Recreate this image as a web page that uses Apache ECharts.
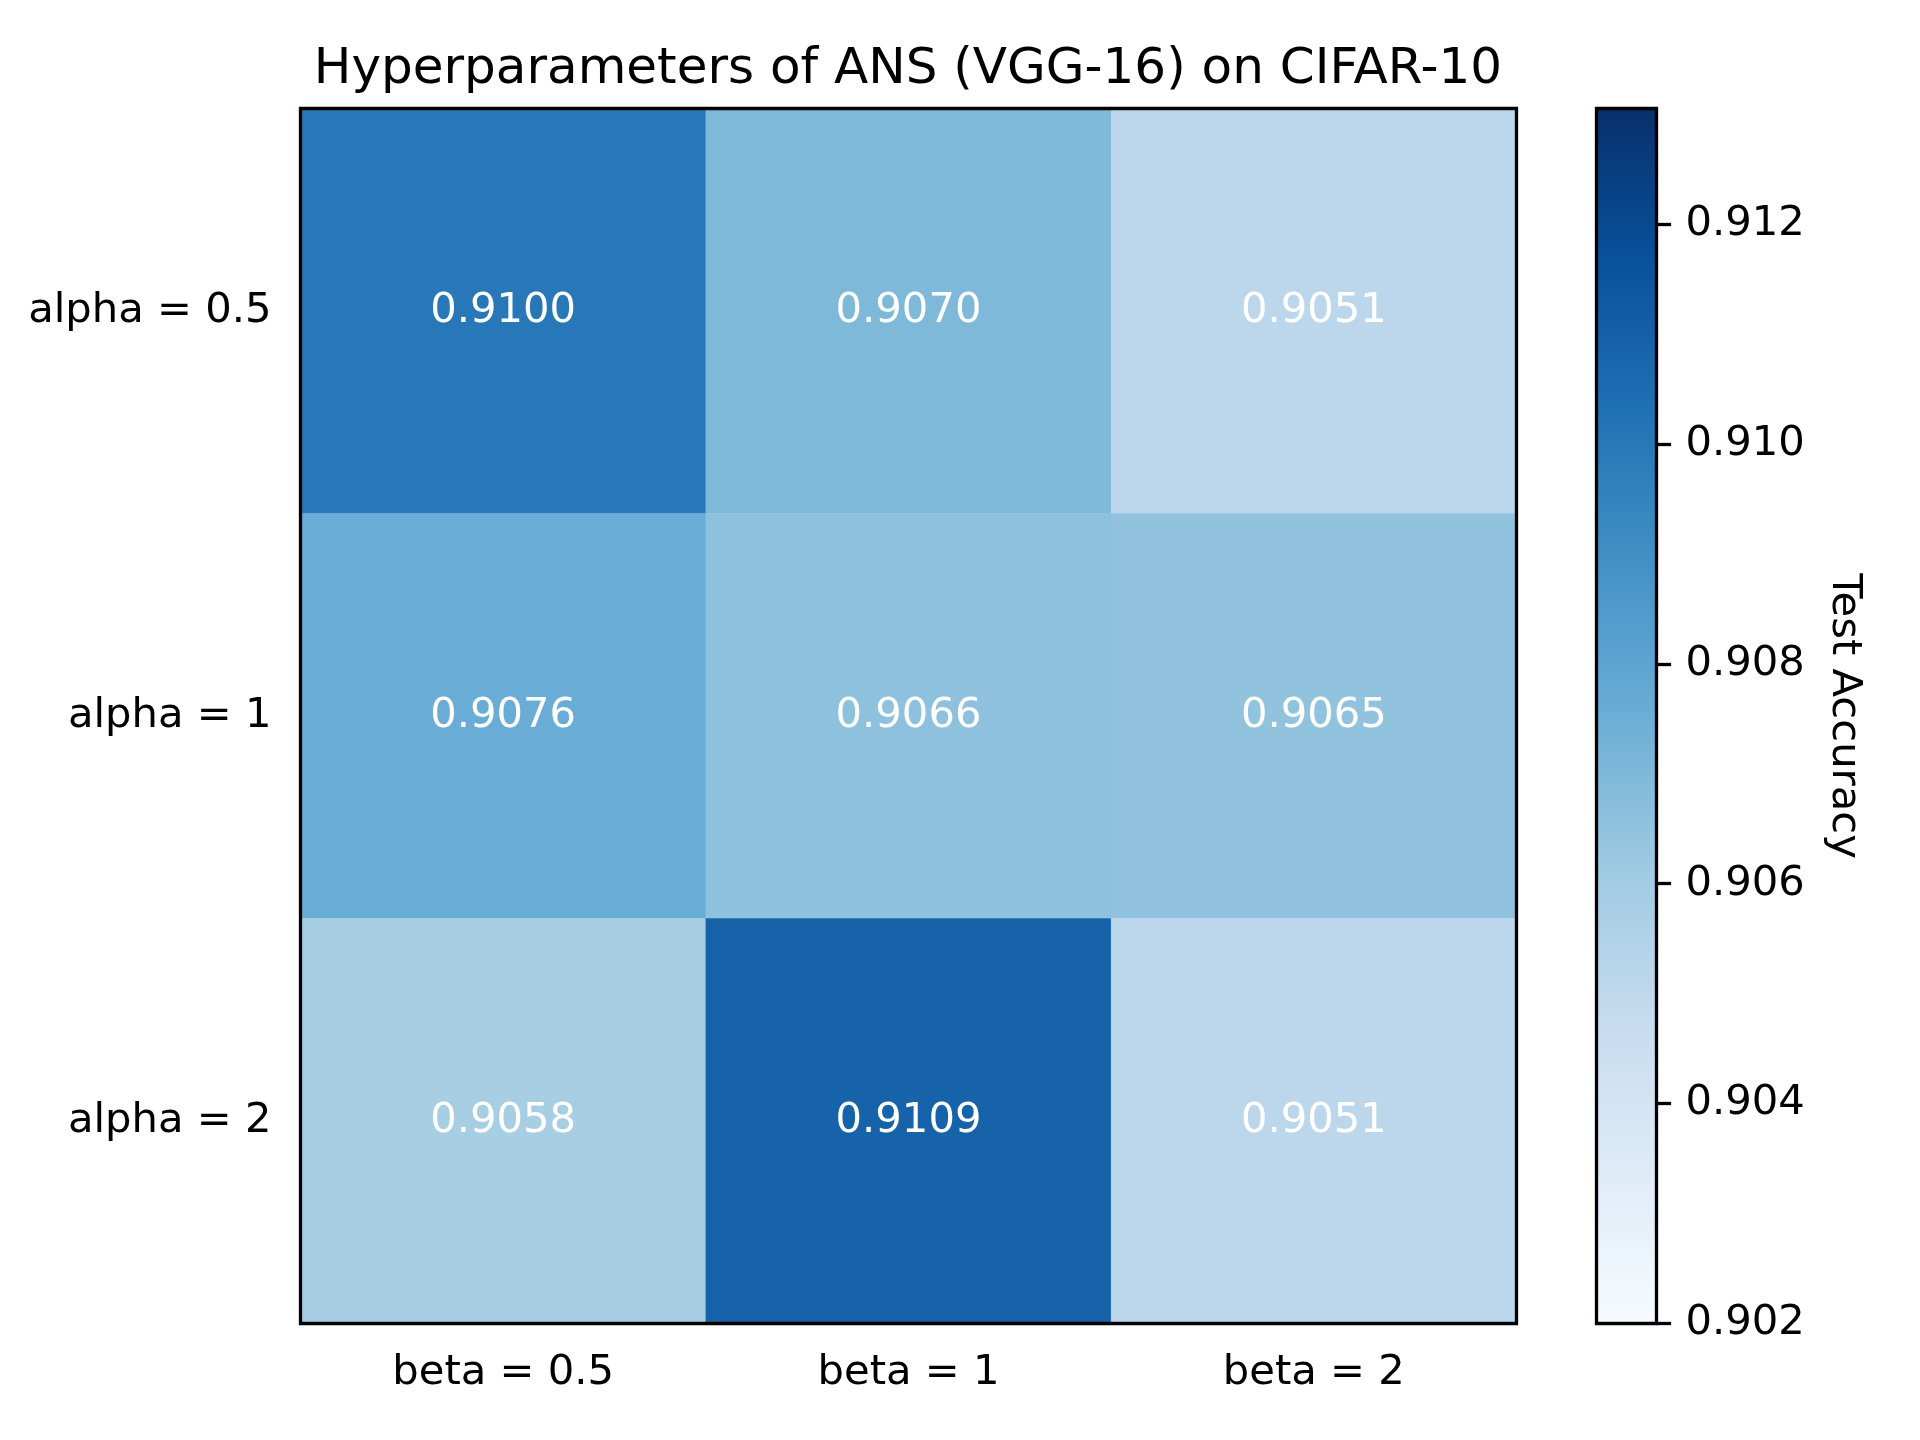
<!DOCTYPE html>
<html>
<head>
<meta charset="utf-8">
<script src="https://cdn.jsdelivr.net/npm/echarts@6/dist/echarts.min.js"></script>
<style>
  html, body { margin: 0; padding: 0; background: #fff; }
  #chart { width: 1920px; height: 1440px; }
</style>
</head>
<body>
<div id="chart"></div>
<script>
const betas = ["beta = 0.5", "beta = 1", "beta = 2"];
const alphas = ["alpha = 0.5", "alpha = 1", "alpha = 2"];
// rows follow alphas, columns follow betas
const accRow05 = [0.9100, 0.9070, 0.9051];
const accRow1 = [0.9076, 0.9066, 0.9065];
const accRow2 = [0.9058, 0.9109, 0.9051];
const vmin = 0.902;
const vmax = 0.91305;
const cbarTicks = [0.902, 0.904, 0.906, 0.908, 0.910, 0.912];
// matplotlib "Blues"
const blues = ["#f7fbff", "#deebf7", "#c6dbef", "#9ecae1", "#6baed6",
  "#4292c6", "#2171b5", "#08519c", "#08306b"];

const rows = [accRow05, accRow1, accRow2];
const cells = [];
rows.forEach((row, yi) => {
  row.forEach((v, xi) => cells.push([xi, yi, v]));
});

const font = "DejaVu Sans";
const fs = 41.7;
const lw = 3.3;
const tick = 14.6;

const chart = echarts.init(document.getElementById("chart"));
chart.setOption({
  animation: false,
  textStyle: { fontFamily: font },
  title: {
    text: "Hyperparameters of ANS (VGG-16) on CIFAR-10",
    left: 903,
    top: 40,
    textAlign: "center",
    textStyle: { fontFamily: font, fontSize: 50, fontWeight: "normal", color: "#000" }
  },
  grid: [
    { left: 300.5, top: 108.5, width: 1216, height: 1215, show: true,
      borderColor: "#000", borderWidth: lw, backgroundColor: "transparent", z: 10 },
    { left: 1596.5, top: 108.5, width: 60, height: 1215, show: true,
      borderColor: "#000", borderWidth: lw, backgroundColor: "transparent", z: 10 }
  ],
  visualMap: {
    show: false,
    seriesIndex: 0,
    min: vmin,
    max: vmax,
    inRange: { color: blues }
  },
  xAxis: [
    {
      gridIndex: 0, type: "category", data: betas, position: "bottom",
      axisLine: { show: false },
      axisTick: { alignWithLabel: true, length: tick, lineStyle: { color: "#000", width: lw } },
      axisLabel: { margin: 29, fontSize: fs, color: "#000", fontFamily: font },
      splitLine: { show: false }, z: 10
    },
    {
      gridIndex: 1, type: "category", data: [""], show: false
    }
  ],
  yAxis: [
    {
      gridIndex: 0, type: "category", data: alphas, inverse: true,
      axisLine: { show: false },
      axisTick: { alignWithLabel: true, length: tick, lineStyle: { color: "#000", width: lw } },
      axisLabel: { margin: 29, fontSize: fs, color: "#000", fontFamily: font },
      splitLine: { show: false }, z: 10
    },
    {
      gridIndex: 1, type: "value", position: "right", min: vmin, max: vmax,
      axisLine: { show: false },
      axisTick: { show: true, length: tick, customValues: cbarTicks,
        lineStyle: { color: "#000", width: lw } },
      axisLabel: { margin: 29, fontSize: fs, color: "#000", fontFamily: font,
        customValues: cbarTicks, formatter: v => v.toFixed(3) },
      splitLine: { show: false },
      name: "Test Accuracy",
      nameLocation: "middle",
      nameRotate: -90,
      nameGap: 166,
      nameTextStyle: { fontSize: fs, color: "#000", fontFamily: font },
      z: 10
    }
  ],
  series: [
    {
      type: "heatmap",
      xAxisIndex: 0, yAxisIndex: 0,
      data: cells,
      label: {
        show: true,
        color: "#fff",
        fontSize: fs,
        fontFamily: font,
        formatter: p => p.value[2].toFixed(4)
      },
      itemStyle: { borderWidth: 0 },
      emphasis: { disabled: true }
    },
    {
      type: "bar",
      xAxisIndex: 1, yAxisIndex: 1,
      data: [vmax],
      barWidth: "100%",
      silent: true,
      itemStyle: {
        color: new echarts.graphic.LinearGradient(0, 1, 0, 0,
          blues.map((c, i) => ({ offset: i / (blues.length - 1), color: c })))
      }
    }
  ]
});
</script>
</body>
</html>
